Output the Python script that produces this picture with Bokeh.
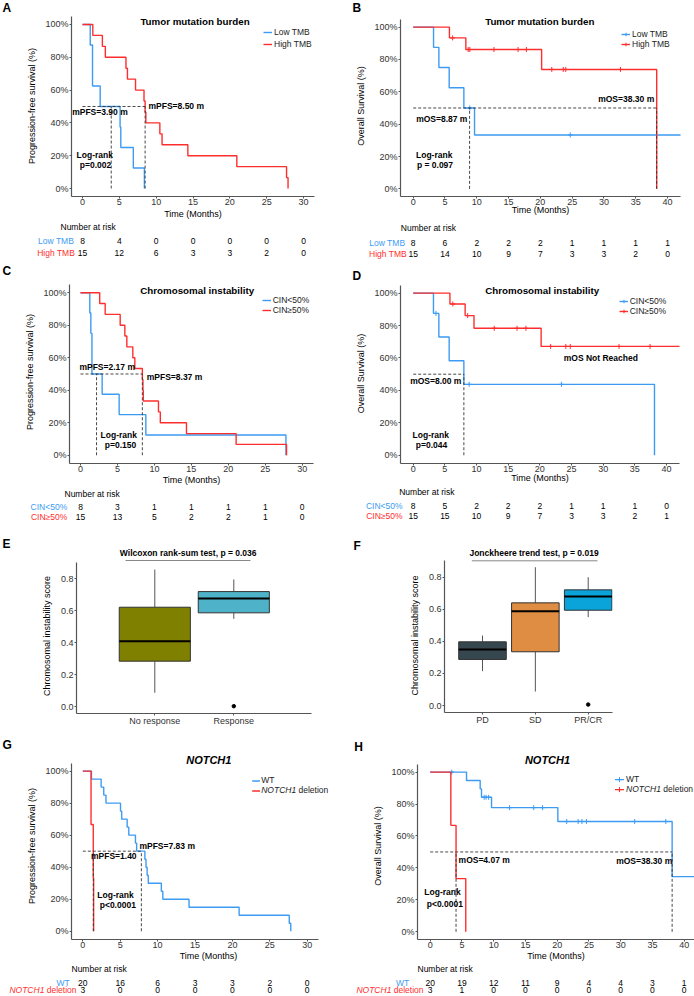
import numpy as np
from bokeh.plotting import figure
from bokeh.models import (Range1d, Label, Legend, LegendItem, FixedTicker, NumeralTickFormatter)
from bokeh.layouts import row, column
from bokeh.embed import file_html
from bokeh.resources import INLINE
from bokeh.core.properties import value

FONT = "Liberation Sans"
BLUE = "#3D9BF3"
RED = "#FF2E2E"
DASH = "#333333"
AXIS = "#555555"
TICKTXT = "#333333"

# ======================= DATA =======================
# time in months, status 1 = event, 0 = censored
# A: PFS by tumor mutation burden
a_low_time = [1.05, 1.36, 1.36, 2.40, 5.10, 5.20, 6.90, 8.40]
a_low_status = [1, 1, 1, 1, 1, 1, 1, 1]
a_high_time = [1.40, 2.70, 3.10, 5.90, 6.10, 7.20, 8.35, 8.50, 8.60, 10.50, 10.80, 14.30, 20.95, 27.70, 27.90]
a_high_status = [1, 1, 1, 1, 1, 1, 1, 1, 1, 1, 1, 1, 1, 1, 1]
a_medians = [3.90, 8.50]
a_risk_times = [0, 5, 10, 15, 20, 25, 30]
a_risk_low = [8, 4, 0, 0, 0, 0, 0]
a_risk_high = [15, 12, 6, 3, 3, 2, 0]

# B: OS by tumor mutation burden
b_low_time = [3.20, 4.04, 5.66, 7.97, 8.90, 9.65, 24.70, 42.50]
b_low_status = [1, 1, 1, 1, 0, 1, 0, 0]
b_high_time = [5.70, 6.20, 8.28, 8.65, 8.90, 12.70, 16.50, 17.80, 20.20, 21.80, 23.60, 24.00, 32.60, 38.30, 38.30]
b_high_status = [1, 0, 1, 0, 0, 0, 0, 0, 1, 0, 0, 0, 0, 1, 1]
b_medians = [8.87, 38.30]
b_risk_times = [0, 5, 10, 15, 20, 25, 30, 35, 40]
b_risk_low = [8, 6, 2, 2, 2, 1, 1, 1, 1]
b_risk_high = [15, 14, 10, 9, 7, 3, 3, 2, 0]

# C: PFS by chromosomal instability
c_low_time = [1.26, 1.40, 1.55, 1.55, 2.93, 5.23, 8.84, 27.80]
c_low_status = [1, 1, 1, 1, 1, 1, 1, 1]
c_high_time = [2.60, 3.34, 5.37, 6.00, 6.27, 7.08, 7.35, 8.37, 8.45, 8.50, 10.55, 10.80, 14.34, 21.06, 27.88]
c_high_status = [1, 1, 1, 1, 1, 1, 1, 1, 1, 1, 1, 1, 1, 1, 1]
c_medians = [2.17, 8.37]
c_risk_times = [0, 5, 10, 15, 20, 25, 30]
c_risk_low = [8, 3, 1, 1, 1, 1, 0]
c_risk_high = [15, 13, 5, 2, 2, 1, 0]

# D: OS by chromosomal instability
d_low_time = [3.20, 3.60, 4.05, 5.68, 8.00, 8.84, 23.40, 38.10]
d_low_status = [1, 0, 1, 1, 1, 0, 0, 1]
d_high_time = [5.80, 6.26, 8.20, 8.60, 9.60, 12.80, 16.40, 17.80, 20.20, 21.70, 24.10, 24.80, 32.50, 37.40, 43.00]
d_high_status = [1, 0, 1, 0, 1, 0, 0, 0, 1, 0, 0, 0, 0, 0, 0]
d_medians = [8.00]
d_risk_times = [0, 5, 10, 15, 20, 25, 30, 35, 40]
d_risk_low = [8, 5, 2, 2, 2, 1, 1, 1, 0]
d_risk_high = [15, 15, 10, 9, 7, 3, 3, 2, 1]

# E: CIN score by response (box statistics)
e_cats = ["No response", "Response"]
e_min = [0.086, 0.549]
e_q1 = [0.284, 0.587]
e_med = [0.409, 0.677]
e_q3 = [0.622, 0.720]
e_max = [0.858, 0.796]
e_out_cat = [2]
e_out_val = [0.002]
e_colors = ["#808000", "#4EB3C8"]

# F: CIN score by best response
f_cats = ["PD", "SD", "PR/CR"]
f_min = [0.214, 0.087, 0.551]
f_q1 = [0.287, 0.335, 0.594]
f_med = [0.349, 0.588, 0.679]
f_q3 = [0.397, 0.640, 0.721]
f_max = [0.436, 0.862, 0.800]
f_out_cat = [3]
f_out_val = [0.006]
f_colors = ["#37474F", "#DE8D42", "#0AA4DA"]

# G: PFS by NOTCH1
g_wt_time = [1.16, 2.45, 2.80, 3.10, 5.04, 5.20, 5.93, 6.15, 7.04, 7.20, 8.30, 8.45, 8.60, 8.75,
             10.50, 10.70, 14.20, 20.90, 27.60, 27.80]
g_wt_status = [1, 1, 1, 1, 1, 1, 1, 1, 1, 1, 1, 1, 1, 1, 1, 1, 1, 1, 1, 1]
g_del_time = [1.10, 1.40, 1.45]
g_del_status = [1, 1, 1]
g_medians = [1.40, 7.83]
g_risk_times = [0, 5, 10, 15, 20, 25, 30]
g_risk_wt = [20, 16, 6, 3, 3, 2, 0]
g_risk_del = [3, 0, 0, 0, 0, 0, 0]

# H: OS by NOTCH1
h_wt_time = [3.40, 5.72, 7.87, 8.08, 8.50, 8.80, 9.20, 9.66, 12.50, 16.30, 17.70, 20.10, 21.50,
             23.30, 23.90, 24.60, 32.20, 37.10, 38.10, 43.00]
h_wt_status = [0, 1, 1, 1, 0, 0, 0, 1, 0, 0, 0, 1, 0, 0, 0, 0, 0, 0, 1, 0]
h_del_time = [3.25, 4.07, 5.60]
h_del_status = [1, 1, 1]
h_medians = [4.07, 38.10]
h_risk_times = [0, 5, 10, 15, 20, 25, 30, 35, 40]
h_risk_wt = [20, 19, 12, 11, 9, 4, 4, 3, 1]
h_risk_del = [3, 1, 0, 0, 0, 0, 0, 0, 0]

# ======================= LAYOUT HELPERS =======================
W = 347
COL_X0 = [0, 347]
ROW_TOPS = [0, 260, 524, 730]
ROW_H = [260, 264, 206, 265]
H_LABEL = 10.2          # approx rendered height of a 9px label

DEL_W = (3.502 + 0.278) * 8.5      # width of " deletion" at 8.5px
NOTCH_W = (4.111 + 0.278) * 8.5    # width of "NOTCH1 " at 8.5px


def km_curve(times, status):
    t = np.asarray(times, float)
    s = np.asarray(status, int)
    xs, ys = [0.0], [1.0]
    surv = 1.0
    cxs, cys = [], []
    for u in np.unique(t):
        n = np.sum(t >= u)
        d = np.sum((t == u) & (s == 1))
        c = np.sum((t == u) & (s == 0))
        if d > 0:
            new = surv * (1.0 - d / n)
            xs += [u, u]
            ys += [surv, new]
            surv = new
        if c > 0:
            cxs.append(u)
            cys.append(surv)
    xs.append(t.max())
    ys.append(surv)
    return xs, ys, cxs, cys


def blank_fig(w, h, xr, yr):
    p = figure(width=w, height=h, x_range=Range1d(*xr), y_range=Range1d(*yr),
               x_axis_location=None, y_axis_location=None, min_border=0,
               output_backend="svg", toolbar_location=None)
    p.frame_align = False
    p.outline_line_color = None
    p.grid.visible = False
    return p


def add_text(p, xs, ys, texts, size=8.5, style="normal", color="black", align="left"):
    p.text(x=xs, y=ys, text=texts, text_font=value(FONT), text_font_size=value(f"{size}px"),
           text_font_style=style, text_color=color, text_align=align, text_baseline="middle")


def style_axes(p):
    p.frame_align = False
    p.outline_line_color = None
    p.xgrid.visible = False
    p.ygrid.visible = False
    for ax in (p.xaxis, p.yaxis):
        ax.axis_line_color = AXIS
        ax.axis_line_width = 1.2
        ax.major_tick_line_color = AXIS
        ax.major_tick_line_width = 1
        ax.major_tick_out = 2
        ax.major_tick_in = 0
        ax.minor_tick_line_color = None
        ax.major_label_text_font = FONT
        ax.major_label_text_font_size = "9px"
        ax.major_label_text_color = TICKTXT
        ax.axis_label_text_font = FONT
        ax.axis_label_text_font_size = "9px"
        ax.axis_label_text_font_style = "normal"
        ax.axis_label_text_color = "black"
    p.xaxis.major_label_standoff = 0
    p.yaxis.major_label_standoff = 1


class Col:
    """One panel column: header strip, main plot, optional risk-table strip."""

    def text(self, xref, yref, s, size=8.5, style="normal", color="black", align="left"):
        self.p.add_layout(Label(x=xref - self.frame_left, y=self.frame_bottom - yref,
                                x_units="screen", y_units="screen", text=s, text_font=FONT,
                                text_font_size=f"{size}px", text_font_style=style,
                                text_color=color, text_align=align, text_baseline="middle"))

    def dx(self, xref):
        return (xref - self.x0pix) / self.xppu

    def dy(self, yref):
        return (self.y0pix - yref) / self.yppu

    def header_text(self, xref, yref, s, size=12, style="bold", align="left"):
        add_text(self.hdr, [xref - self.X0], [yref - self.Y0], [s], size, style, "black", align)


class KMCol(Col):
    def __init__(self, col, r, ftop, x0pix, xppu, xr0, fr_px, xbound_end, y1pix, y0pix,
                 ylabel, xticks, xlab_s):
        X0, Y0, H = COL_X0[col], ROW_TOPS[r], ROW_H[r]
        self.X0, self.Y0 = X0, Y0
        self.x0pix, self.xppu = x0pix, xppu
        self.y0pix, self.yppu = y0pix, y0pix - y1pix
        fb = y0pix + 0.05 * self.yppu
        hH = int(round(ftop - Y0))
        fh = int(round(fb - Y0 - hH))
        left = int(round(x0pix + xr0 * xppu - X0))
        right = max(0, int(round(X0 + W - fr_px)))
        self.frame_left = X0 + left
        self.frame_top = Y0 + hH
        self.frame_bottom = Y0 + hH + fh
        xa = (X0 + left - x0pix) / xppu
        xb = (X0 + W - right - x0pix) / xppu
        ya = self.dy(self.frame_bottom)
        yb = self.dy(self.frame_top)
        bb = int(np.ceil(2 + 2 * H_LABEL + xlab_s + 0.5))
        hK = fh + bb
        hR = H - hH - hK
        self.risk_top = Y0 + hH + hK

        self.hdr = blank_fig(W, hH, (0, W), (hH, 0))
        p = figure(width=W, height=hK, x_range=Range1d(xa, xb), y_range=Range1d(ya, yb),
                   min_border_left=left, min_border_right=right, min_border_top=0,
                   min_border_bottom=bb, output_backend="svg", toolbar_location=None)
        style_axes(p)
        p.xaxis.ticker = FixedTicker(ticks=xticks)
        p.yaxis.ticker = FixedTicker(ticks=[0, 0.2, 0.4, 0.6, 0.8, 1.0])
        p.yaxis.formatter = NumeralTickFormatter(format="0%")
        p.yaxis.bounds = (-0.05, 1.05)
        if xbound_end is not None:
            p.xaxis.bounds = (xa, xbound_end)
        p.xaxis.axis_label = "Time (Months)"
        p.yaxis.axis_label = ylabel
        p.xaxis.axis_label_standoff = xlab_s
        p.yaxis.axis_label_standoff = 5
        self.p = p
        self.risk = blank_fig(W, hR, ((X0 - x0pix) / xppu, (X0 + W - x0pix) / xppu), (hR, 0))

    def curve(self, times, status, color, marks):
        xs, ys, cxs, cys = km_curve(times, status)
        r = self.p.line(xs, ys, line_color=color, line_width=1.4)
        rc = None
        if marks:
            rc = self.p.scatter(cxs, cys, marker="cross", size=5, line_color=color, line_width=1)
        return r, rc

    def medians(self, meds):
        self.p.segment([0], [0.5], [max(meds)], [0.5], line_color=DASH, line_dash="3 2",
                       line_width=0.9)
        self.p.segment(meds, [0] * len(meds), meds, [0.5] * len(meds),
                       line_color=DASH, line_dash="3 2", line_width=0.9)

    def legend(self, items, gx, c1, spacing):
        lh = 10
        total = 2 * lh + spacing
        leg = Legend(items=[LegendItem(label=l, renderers=rs) for l, rs in items],
                     location=(gx - self.frame_left, (self.frame_bottom - c1) + lh / 2 - total),
                     orientation="vertical", background_fill_alpha=0, border_line_alpha=0,
                     padding=0, margin=0, spacing=spacing, glyph_width=9, glyph_height=lh,
                     label_height=lh, label_standoff=2, label_text_font=FONT,
                     label_text_font_size="8.5px", label_text_color="#222222")
        self.p.add_layout(leg)

    def notch_legend(self, gx0, gx1, tx, y1, y2, marks):
        for yref, color in ((y1, BLUE), (y2, RED)):
            yd = self.dy(yref)
            self.p.line([self.dx(gx0), self.dx(gx1)], [yd, yd], line_color=color, line_width=1.4)
            if marks:
                self.p.scatter([self.dx((gx0 + gx1) / 2)], [yd], marker="cross", size=5,
                               line_color=color, line_width=1)
        self.text(tx, y1, "WT", 8.5, color="#222222")
        self.text(tx, y2, "NOTCH1", 8.5, "italic", color="#222222")
        self.text(tx + NOTCH_W, y2, "deletion", 8.5, color="#222222")

    def risk_title(self, xref, yref):
        add_text(self.risk, [self.dx(xref)], [yref - self.risk_top], ["Number at risk"])

    def risk_row(self, times, counts, yref, label, right_ref, color, notch=False):
        y = yref - self.risk_top
        add_text(self.risk, times, [y] * len(times), [str(c) for c in counts], align="center")
        if notch:
            add_text(self.risk, [self.dx(right_ref)], [y], ["deletion"], color=color, align="right")
            add_text(self.risk, [self.dx(right_ref - DEL_W)], [y], ["NOTCH1"], style="italic",
                     color=color, align="right")
        else:
            add_text(self.risk, [self.dx(right_ref)], [y], [label], color=color, align="right")

    def layout(self):
        return column(self.hdr, self.p, self.risk)


class BoxCol(Col):
    def __init__(self, col, r, hdr_bottom, x0pix, xppu, fl_px, fr_px, y0pix, yppu, fb_px,
                 cats, mins, q1s, meds, q3s, maxs, colors, out_pos, out_val):
        X0, Y0, H = COL_X0[col], ROW_TOPS[r], ROW_H[r]
        self.X0, self.Y0 = X0, Y0
        self.x0pix, self.xppu, self.y0pix, self.yppu = x0pix, xppu, y0pix, yppu
        hH = int(round(hdr_bottom - Y0))
        fh = int(round(fb_px - Y0 - hH))
        hM = H - hH
        bb = hM - fh
        left = int(round(fl_px - X0))
        right = int(round(X0 + W - fr_px))
        self.frame_left = X0 + left
        self.frame_top = Y0 + hH
        self.frame_bottom = Y0 + hH + fh
        xa = (X0 + left - x0pix) / xppu
        xb = (X0 + W - right - x0pix) / xppu
        self.hdr = blank_fig(W, hH, (0, W), (hH, 0))
        p = figure(width=W, height=hM, x_range=Range1d(xa, xb),
                   y_range=Range1d(self.dy(self.frame_bottom), self.dy(self.frame_top)),
                   min_border_left=left, min_border_right=right, min_border_top=0,
                   min_border_bottom=bb, output_backend="svg", toolbar_location=None)
        style_axes(p)
        pos = list(range(1, len(cats) + 1))
        p.segment(pos, q3s, pos, maxs, line_color="#555555", line_width=1)
        p.segment(pos, mins, pos, q1s, line_color="#555555", line_width=1)
        p.vbar(x=pos, width=0.9, bottom=q1s, top=q3s, fill_color=colors,
               line_color="#333333", line_width=1)
        p.segment([x - 0.45 for x in pos], meds, [x + 0.45 for x in pos], meds,
                  line_color="black", line_width=2)
        p.scatter(out_pos, out_val, size=3.5, color="black")
        p.xaxis.ticker = FixedTicker(ticks=pos)
        p.xaxis.major_label_overrides = {x: c for x, c in zip(pos, cats)}
        p.yaxis.ticker = FixedTicker(ticks=[0, 0.2, 0.4, 0.6, 0.8])
        p.yaxis.formatter = NumeralTickFormatter(format="0.0")
        p.yaxis.bounds = (-0.043, 0.903)
        p.yaxis.axis_label = "Chromosomal instability score"
        p.yaxis.axis_label_standoff = 6
        self.p = p

    def bracket(self, x0ref, x1ref, yref):
        self.p.segment([self.dx(x0ref)], [self.dy(yref)], [self.dx(x1ref)], [self.dy(yref)],
                       line_color="#888888", line_width=1)

    def layout(self):
        return column(self.hdr, self.p)


# ======================= PANEL A =======================
A = KMCol(0, 0, 15, 82, 7.367, -1.5, 314, None, 24, 189,
          "Progression-free survival (%)", a_risk_times, 1)
rAl, _ = A.curve(a_low_time, a_low_status, BLUE, False)
rAh, _ = A.curve(a_high_time, a_high_status, RED, False)
A.medians(a_medians)
A.legend([("Low TMB", [rAl]), ("High TMB", [rAh])], 263, 33.3, 2)
A.header_text(2, 7.5, "A")
A.text(194.5, 22, "Tumor mutation burden", 9.75, "bold", align="center")
A.text(71.7, 112, "mPFS=3.90 m", 8.5, "bold")
A.text(148, 106, "mPFS=8.50 m", 8.5, "bold")
A.text(94.3, 155, "Log-rank", 8.5, "bold", align="center")
A.text(95, 165, "p=0.002", 8.5, "bold", align="center")
A.risk_title(60, 226.5)
A.risk_row(a_risk_times, a_risk_low, 240, "Low TMB", 73.5, BLUE)
A.risk_row(a_risk_times, a_risk_high, 252, "High TMB", 74.5, RED)

# ======================= PANEL B =======================
B = KMCol(1, 0, 15, 412.7, 6.3575, -2, 679.7, None, 26.7, 189.3,
          "Overall Survival (%)", b_risk_times, -3)
rBl, cBl = B.curve(b_low_time, b_low_status, BLUE, True)
rBh, cBh = B.curve(b_high_time, b_high_status, RED, True)
B.medians(b_medians)
B.legend([("Low TMB", [rBl, cBl]), ("High TMB", [rBh, cBh])], 621, 34.7, 0)
B.header_text(352, 7.5, "B")
B.text(539.3, 22.3, "Tumor mutation burden", 9.75, "bold", align="center")
B.text(441.3, 119, "mOS=8.87 m", 8.5, "bold", align="center")
B.text(625.7, 99.3, "mOS=38.30 m", 8.5, "bold", align="center")
B.text(433.7, 155, "Log-rank", 8.5, "bold", align="center")
B.text(434.5, 165, "p = 0.097", 8.5, "bold", align="center")
B.risk_title(400.3, 227.7)
B.risk_row(b_risk_times, b_risk_low, 242.7, "Low TMB", 404.7, BLUE)
B.risk_row(b_risk_times, b_risk_high, 253, "High TMB", 406.3, RED)

# ======================= PANEL C =======================
C = KMCol(0, 1, 280, 80, 7.39, -1.5, 312.8, None, 292.3, 455.7,
          "Progression-free survival (%)", c_risk_times, 0)
rCl, _ = C.curve(c_low_time, c_low_status, BLUE, False)
rCh, _ = C.curve(c_high_time, c_high_status, RED, False)
C.medians(c_medians)
C.legend([("CIN<50%", [rCl]), ("CIN\u226550%", [rCh])], 261.7, 301, 0)
C.header_text(2, 270, "C")
C.text(196.7, 290.7, "Chromosomal instability", 9.75, "bold", align="center")
C.text(106.7, 367.7, "mPFS=2.17 m", 8.5, "bold", align="center")
C.text(174, 377.7, "mPFS=8.37 m", 8.5, "bold", align="center")
C.text(118.3, 435, "Log-rank", 8.5, "bold", align="center")
C.text(120, 445, "p=0.150", 8.5, "bold", align="center")
C.risk_title(64, 493.5)
C.risk_row(c_risk_times, c_risk_low, 506.7, "CIN<50%", 66.7, BLUE)
C.risk_row(c_risk_times, c_risk_high, 516.7, "CIN\u226550%", 66.7, RED)

# ======================= PANEL D =======================
D = KMCol(1, 1, 283, 412.7, 6.333, -2, 678.7, None, 292.7, 455.7,
          "Overall Survival (%)", d_risk_times, -2)
rDl, cDl = D.curve(d_low_time, d_low_status, BLUE, True)
rDh, cDh = D.curve(d_high_time, d_high_status, RED, True)
D.medians(d_medians)
D.legend([("CIN<50%", [rDl, cDl]), ("CIN\u226550%", [rDh, cDh])], 618.7, 301.7, 0)
D.header_text(352, 275.5, "D")
D.text(541.7, 290.7, "Chromosomal instability", 9.75, "bold", align="center")
D.text(435.3, 381, "mOS=8.00 m", 8.5, "bold", align="center")
D.text(600.3, 358.3, "mOS Not Reached", 8.5, "bold", align="center")
D.text(430.3, 435, "Log-rank", 8.5, "bold", align="center")
D.text(431, 445, "p=0.044", 8.5, "bold", align="center")
D.risk_title(398.7, 491)
D.risk_row(d_risk_times, d_risk_low, 505.7, "CIN<50%", 402, BLUE)
D.risk_row(d_risk_times, d_risk_high, 515.7, "CIN\u226550%", 402, RED)

# ======================= PANELS E, F =======================
E = BoxCol(0, 2, 558, 75.3, 79, 76.1, 311.5, 706, 159.6, 712.9,
           e_cats, e_min, e_q1, e_med, e_q3, e_max, e_colors, e_out_cat, e_out_val)
E.bracket(125, 250, 560)
E.header_text(2, 543, "E")
E.header_text(187.7, 552, "Wilcoxon rank-sum test, p = 0.036", 8.5, "bold", align="center")

F = BoxCol(1, 2, 558, 429.15, 52.85, 444.3, 611.7, 705, 160.4, 711.9,
           f_cats, f_min, f_q1, f_med, f_q3, f_max, f_colors, f_out_cat, f_out_val)
F.bracket(471.3, 597, 560.3)
F.header_text(353, 545.5, "F")
F.header_text(534.7, 552, "Jonckheere trend test,  p = 0.019", 8.5, "bold", align="center")

# ======================= PANEL G =======================
G = KMCol(0, 3, 752, 82.3, 7.48, -1.5, 345, 31.5, 770.7, 931.7,
          "Progression-free survival (%)", g_risk_times, 0)
G.curve(g_wt_time, g_wt_status, BLUE, False)
G.curve(g_del_time, g_del_status, RED, False)
G.medians(g_medians)
G.notch_legend(251.7, 259.5, 260.7, 780.7, 790.7, False)
G.header_text(2, 744.7, "G")
G.text(208.3, 760, "NOTCH1", 11, "bold italic", align="center")
G.text(166.7, 846.7, "mPFS=7.83 m", 8.5, "bold", align="center")
G.text(113.3, 856, "mPFS=1.40", 8.5, "bold", align="center")
G.text(115, 895.7, "Log-rank", 8.5, "bold", align="center")
G.text(117.3, 905.7, "p<0.0001", 8.5, "bold", align="center")
G.risk_title(71, 968.5)
G.risk_row(g_risk_times, g_risk_wt, 982, "WT", 69.3, BLUE)
G.risk_row(g_risk_times, g_risk_del, 989.8, None, 76, RED, notch=True)

# ======================= PANEL H =======================
Hc = KMCol(1, 3, 752, 429.7, 6.35, -2, 694, None, 771.7, 932.3,
           "Overall Survival (%)", h_risk_times, 0)
Hc.curve(h_wt_time, h_wt_status, BLUE, True)
Hc.curve(h_del_time, h_del_status, RED, True)
Hc.medians(h_medians)
Hc.notch_legend(614.5, 623.5, 625.5, 779.3, 789.3, True)
Hc.header_text(353.7, 746, "H")
Hc.text(547, 760, "NOTCH1", 11, "bold italic", align="center")
Hc.text(483.7, 860, "mOS=4.07 m", 8.5, "bold", align="center")
Hc.text(643.7, 861, "mOS=38.30 m", 8.5, "bold", align="center")
Hc.text(442, 892.7, "Log-rank", 8.5, "bold", align="center")
Hc.text(444.3, 904, "p<0.0001", 8.5, "bold", align="center")
Hc.risk_title(417, 968.5)
Hc.risk_row(h_risk_times, h_risk_wt, 982, "WT", 408.7, BLUE)
Hc.risk_row(h_risk_times, h_risk_del, 989.8, None, 423, RED, notch=True)

layout = column(row(A.layout(), B.layout()),
                row(C.layout(), D.layout()),
                row(E.layout(), F.layout()),
                row(G.layout(), Hc.layout()))
open("out.html", "w").write(file_html(layout, INLINE))
